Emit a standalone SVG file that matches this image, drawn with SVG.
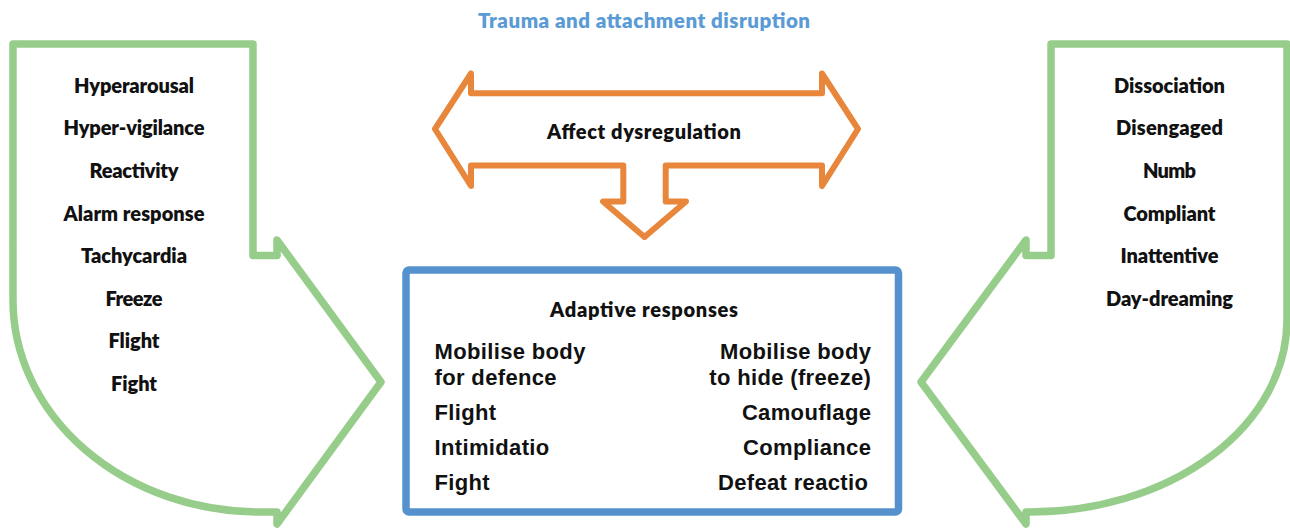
<svg xmlns="http://www.w3.org/2000/svg" width="1290" height="528" viewBox="0 0 1290 528">
<style>
.bg{fill:#ffffff}
.green{fill:#ffffff;stroke:#97CD8A;stroke-width:7.5;stroke-linejoin:round}
.orange{fill:#ffffff;stroke:#E8873B;stroke-width:6;stroke-linejoin:round}
.blue{fill:#ffffff;stroke:#5592CD;stroke-width:7.5}
.lab{font-family:Lato,"Noto Sans","DejaVu Sans",sans-serif;font-weight:800;font-size:20px;fill:#111111;text-anchor:middle}
.title{font-family:Lato,"Noto Sans","DejaVu Sans",sans-serif;font-weight:800;font-size:20.5px;fill:#5B9BD5;text-anchor:middle}
.ar{font-family:"Liberation Sans",Arial,sans-serif;font-weight:700;font-size:22px;fill:#111111;letter-spacing:0.35px}
.ar.r{text-anchor:end}
</style>
<rect class="bg" x="0" y="0" width="1290" height="528"/>
<g id="title">
<text class="title" x="644" y="27.5" textLength="332" lengthAdjust="spacing">Trauma and attachment disruption</text>
</g>
<g id="left-node">
<path class="green" d="M13,44 H253 V255.5 H277 V240 L381,382 L277,524 V512 H260 A247,212 0 0 1 13,300 Z"/>
<text class="lab" x="134" y="92.7" textLength="120" lengthAdjust="spacing">Hyperarousal</text>
<text class="lab" x="134" y="135.3" textLength="141" lengthAdjust="spacing">Hyper-vigilance</text>
<text class="lab" x="134" y="177.9" textLength="89" lengthAdjust="spacing">Reactivity</text>
<text class="lab" x="134" y="220.5" textLength="141" lengthAdjust="spacing">Alarm response</text>
<text class="lab" x="134" y="263.1" textLength="106" lengthAdjust="spacing">Tachycardia</text>
<text class="lab" x="134" y="305.7" textLength="57" lengthAdjust="spacing">Freeze</text>
<text class="lab" x="134" y="348.3" textLength="51" lengthAdjust="spacing">Flight</text>
<text class="lab" x="134" y="390.9" textLength="46" lengthAdjust="spacing">Fight</text>
</g>
<g id="right-node">
<path class="green" d="M1287,44 H1051 V255.5 H1026 V240 L921,382 L1026,524 V512 H1030 A257,192 0 0 0 1287,320 Z"/>
<text class="lab" x="1169.5" y="92.7" textLength="111" lengthAdjust="spacing">Dissociation</text>
<text class="lab" x="1169.5" y="135.3" textLength="107" lengthAdjust="spacing">Disengaged</text>
<text class="lab" x="1169.5" y="177.9" textLength="53" lengthAdjust="spacing">Numb</text>
<text class="lab" x="1169.5" y="220.5" textLength="92" lengthAdjust="spacing">Compliant</text>
<text class="lab" x="1169.5" y="263.1" textLength="98" lengthAdjust="spacing">Inattentive</text>
<text class="lab" x="1169.5" y="305.7" textLength="127" lengthAdjust="spacing">Day-dreaming</text>
</g>
<g id="affect-node">
<path class="orange" d="M435,129 L471,73.5 V93.3 H822 V73.5 L858,129 L822,186 V165.5 H665.7 V201.5 H686 L644.5,237 L603,201.5 H623.3 V165.5 H471 V186 Z"/>
<text class="lab" x="644" y="139.3" textLength="194" lengthAdjust="spacing">Affect dysregulation</text>
</g>
<g id="adaptive-node">
<rect class="blue" x="406" y="270" width="492.5" height="242" rx="3"/>
<text class="lab" x="644" y="317.3" textLength="188" lengthAdjust="spacing">Adaptive responses</text>
<text class="ar" x="434.5" y="359">Mobilise body</text>
<text class="ar" x="434.5" y="385">for defence</text>
<text class="ar" x="434.5" y="420">Flight</text>
<text class="ar" x="434.5" y="455">Intimidatio</text>
<text class="ar" x="434.5" y="490">Fight</text>
<text class="ar r" x="871.3" y="359">Mobilise body</text>
<text class="ar r" x="871.3" y="385">to hide (freeze)</text>
<text class="ar r" x="871.3" y="420">Camouflage</text>
<text class="ar r" x="871.3" y="455">Compliance</text>
<text class="ar r" x="868.3" y="490">Defeat reactio</text>
</g>
<g id="connectors"></g>
</svg>
